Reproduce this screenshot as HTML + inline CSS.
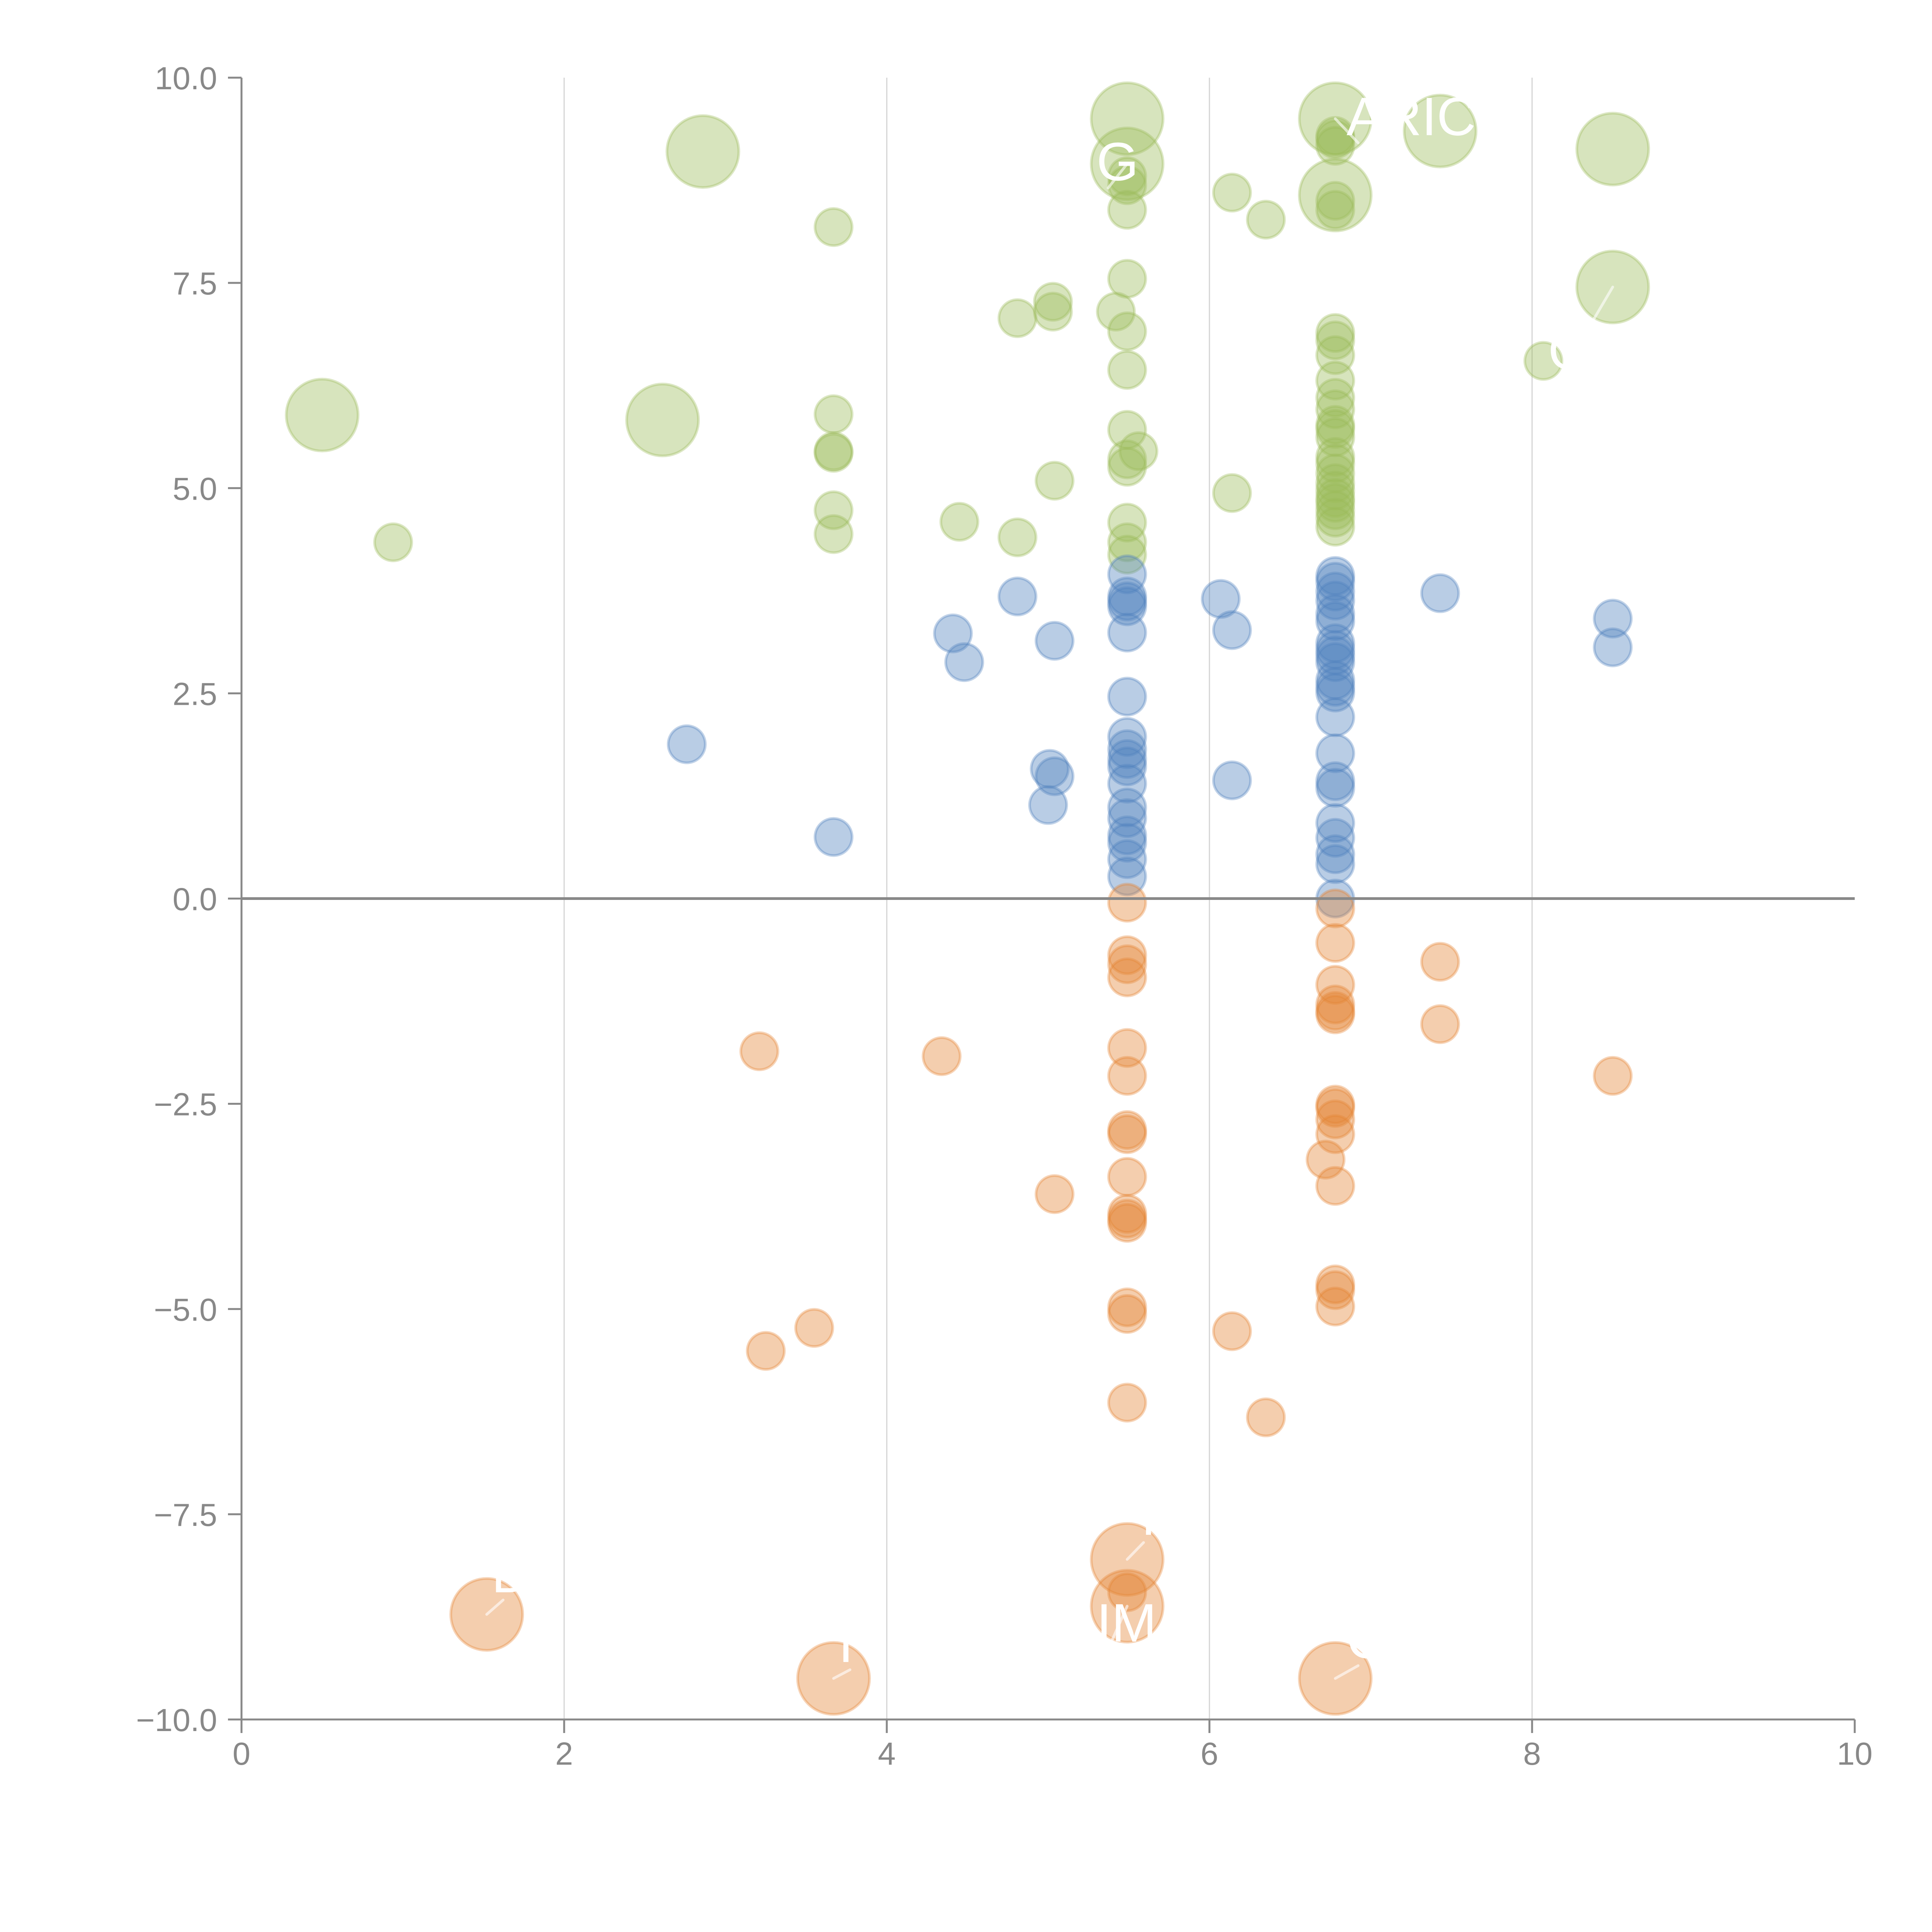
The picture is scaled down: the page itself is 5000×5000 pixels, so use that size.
<!DOCTYPE html>
<html><head><meta charset="utf-8"><style>
html,body{margin:0;padding:0;background:#fff;width:5000px;height:5000px;overflow:hidden}
svg{display:block;font-family:"Liberation Sans",sans-serif}
</style></head><body>
<svg id="chart" width="5000" height="5000" viewBox="0 0 5000 5000" xmlns="http://www.w3.org/2000/svg">
<g id="grid"></g>
<g id="marks"></g>
<g id="labels"></g>
<g id="axes"></g>
</svg>
<script>
const xTicks = [0, 2, 4, 6, 8, 10];
const xTickLabels = ["0", "2", "4", "6", "8", "10"];
const yTicks = [10, 7.5, 5, 2.5, 0, -2.5, -5, -7.5, -10];
const yTickLabels = ["10.0", "7.5", "5.0", "2.5", "0.0", "\u22122.5", "\u22125.0", "\u22127.5", "\u221210.0"];

const greenX = [0.50,2.86,2.61,5.49,5.49,6.78,6.78,7.43,8.50,8.50,
 0.94,3.67,3.67,3.67,3.67,3.67,3.67,4.45,4.81,4.81,5.03,5.03,5.04,5.42,
 5.49,5.49,5.49,5.49,5.49,5.49,5.56,5.49,5.49,5.49,5.49,5.49,5.49,
 6.14,6.35,6.14,8.07,
 6.78,6.78,6.78,6.78,6.78,6.78,6.78,6.78,6.78,6.78,6.78,6.78,6.78,6.78,6.78,6.78,6.78,6.78,6.78,6.78,6.78,6.78,6.78,6.78];
const greenY = [5.89,9.10,5.83,9.50,8.95,9.50,8.57,9.35,9.13,7.45,
 4.34,8.18,5.90,5.45,5.43,4.73,4.44,4.59,7.07,4.40,7.27,7.15,5.09,7.15,
 7.55,6.91,6.44,5.71,5.35,5.26,5.45,4.58,4.34,4.19,8.80,8.69,8.39,
 8.60,8.27,4.94,6.55,
 9.29,9.25,9.17,8.50,8.39,6.89,6.80,6.62,6.31,6.10,5.96,5.77,5.72,5.62,5.38,5.30,5.18,5.06,4.97,4.88,4.82,4.73,4.64,4.53,4.34,4.26];
const greenBig = [1,1,1,1,1,1,1,1,1,1];

const blueX = [2.76,3.67,4.41,4.48,4.81,5.04,5.01,5.04,5.00,6.07,6.14,6.14,7.43,8.50,8.50,
 5.49,5.49,5.49,5.49,5.49,5.49,5.49,5.49,5.49,5.49,5.49,5.49,5.49,5.49,5.49,5.49,5.49,
 6.78,6.78,6.78,6.78,6.78,6.78,6.78,6.78,6.78,6.78,6.78,6.78,6.78,6.78,6.78,6.78,6.78,6.78,6.78,6.78,6.78,6.78];
const blueY = [1.88,0.75,3.23,2.88,3.68,3.14,1.58,1.49,1.14,3.65,3.27,1.44,3.72,3.41,3.06,
 3.95,3.68,3.62,3.56,3.24,2.46,1.97,1.82,1.70,1.61,1.40,1.11,0.98,0.77,0.68,0.48,0.27,
 3.93,3.86,3.74,3.63,3.47,3.38,3.11,3.03,2.96,2.88,2.66,2.58,2.51,2.21,1.77,1.43,1.35,0.92,0.74,0.54,0.42,0.00];

const orangeX = [1.52,3.67,5.49,5.49,6.78,
 3.21,4.34,3.25,3.55,5.04,6.14,6.35,7.43,7.43,8.50,6.72,
 5.49,5.49,5.49,5.49,5.49,5.49,5.49,5.49,5.49,5.49,5.49,5.49,5.49,5.49,5.49,5.49,
 6.78,6.78,6.78,6.78,6.78,6.78,6.78,6.78,6.78,6.78,6.78,6.78,6.78,6.78];
const orangeY = [-8.72,-9.50,-8.05,-8.62,-9.50,
 -1.86,-1.92,-5.51,-5.23,-3.60,-5.27,-6.32,-0.77,-1.53,-2.16,-3.18,
 -0.05,-0.69,-0.80,-0.96,-1.82,-2.16,-2.82,-2.87,-3.39,-3.84,-3.90,-3.95,-4.98,-5.06,-6.14,-8.45,
 -0.12,-0.54,-1.05,-1.29,-1.37,-1.41,-2.51,-2.55,-2.69,-2.87,-3.50,-4.70,-4.77,-4.97];
const orangeBig = [1,1,1,1,1];

const labelText = ["ARICE","G","O","D","IM","C","I","T"];
const labelX = [6.85,5.30,8.10,1.55,5.30,6.85,3.70,5.52];
const labelY = [9.30,8.75,6.45,-8.45,-9.05,-9.25,-9.30,-7.75];
const leadX1 = [6.78,5.49,8.50,1.52,5.49,6.78,3.67,5.49];
const leadY1 = [9.50,8.95,7.45,-8.72,-8.62,-9.50,-9.50,-8.05];

const X0 = 625, X1 = 4800, Y0 = 4450, Y1 = 201;
function sx(v){ return X0 + (v - 0) / 10 * (X1 - X0); }
function sy(v){ return Y0 - (v + 10) / 20 * (Y0 - Y1); }
const NS = "http://www.w3.org/2000/svg";
function mk(tag, attrs, parent){
  const e = document.createElementNS(NS, tag);
  for (const k in attrs) e.setAttribute(k, attrs[k]);
  parent.appendChild(e);
  return e;
}
const grid = document.getElementById("grid");
const marks = document.getElementById("marks");
const labels = document.getElementById("labels");
const axes = document.getElementById("axes");

[2,4,6,8].forEach(v => {
  const l = mk("line", {x1:sx(v), x2:sx(v), y1:Y1, y2:Y0, stroke:"#d4d4d4", "stroke-width":3}, grid);
  
  
});

function drawSeries(xs, ys, bigFlags, fill, stroke, name){
  for (let i = 0; i < xs.length; i++){
    const big = i < bigFlags.length && bigFlags[i];
    const c = mk("circle", {cx:sx(xs[i]), cy:sy(ys[i]), r: big ? 93 : 48,
      fill:fill, stroke:stroke, "stroke-width":7}, marks);
    
    
  }
}
drawSeries(greenX, greenY, greenBig, "rgba(155,187,89,0.4)", "rgba(155,187,89,0.35)", "bubble-positive");
drawSeries(blueX, blueY, [], "rgba(79,129,189,0.4)", "rgba(79,129,189,0.35)", "bubble-mid");
drawSeries(orangeX, orangeY, orangeBig, "rgba(228,132,52,0.4)", "rgba(228,132,52,0.35)", "bubble-negative");

for (let i = 0; i < labelText.length; i++){
  const ln = mk("line", {x1:sx(leadX1[i]), y1:sy(leadY1[i]), x2:sx(labelX[i])+30, y2:sy(labelY[i])+20, stroke:"rgba(255,255,255,0.6)", "stroke-width":7, "stroke-linecap":"round"}, labels);
  
  
  const t = mk("text", {x:sx(labelX[i]), y:sy(labelY[i]), fill:"#fff", "font-size":140}, labels);
  t.textContent = labelText[i];
  
  
}

const zl = mk("line", {x1:X0, x2:X1, y1:sy(0), y2:sy(0), stroke:"#888", "stroke-width":7}, axes);


const ya = mk("line", {x1:X0, x2:X0, y1:Y1, y2:Y0+3, stroke:"#888", "stroke-width":5}, axes);


const xa = mk("line", {x1:X0-3, x2:X1, y1:Y0, y2:Y0, stroke:"#888", "stroke-width":5}, axes);



yTicks.forEach((v, i) => {
  const tk = mk("line", {x1:X0-35, x2:X0, y1:sy(v), y2:sy(v), stroke:"#888", "stroke-width":5}, axes);
  
  
  const t = mk("text", {x:562, y:sy(v)+30, fill:"#888", "font-size":83, "text-anchor":"end"}, axes);
  t.textContent = yTickLabels[i];
  
  
});
xTicks.forEach((v, i) => {
  const tk = mk("line", {x1:sx(v), x2:sx(v), y1:Y0, y2:Y0+35, stroke:"#888", "stroke-width":5}, axes);
  
  
  const t = mk("text", {x:sx(v), y:4567, fill:"#888", "font-size":83, "text-anchor":"middle"}, axes);
  t.textContent = xTickLabels[i];
  
  
});
</script>
</body></html>
